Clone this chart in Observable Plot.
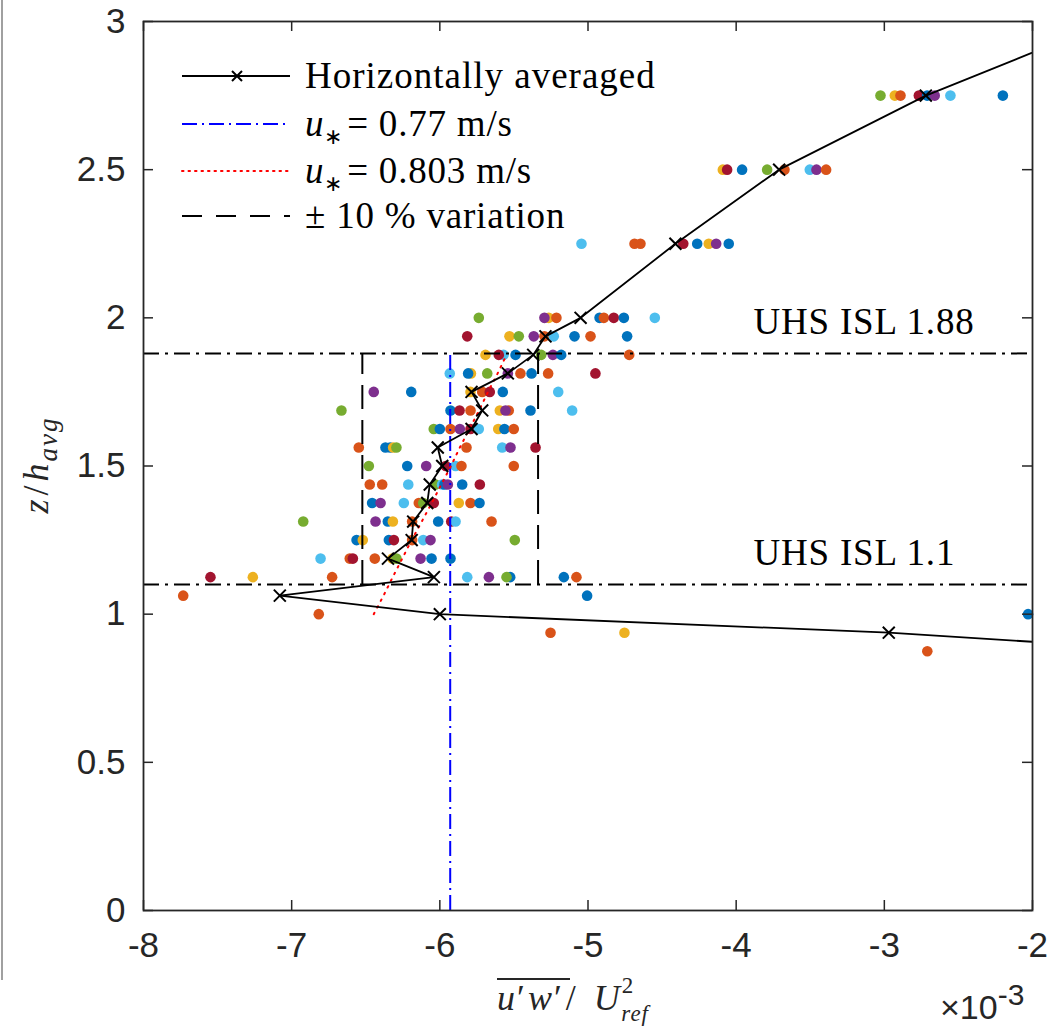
<!DOCTYPE html>
<html><head><meta charset="utf-8">
<script src="https://cdn.jsdelivr.net/npm/d3@7"></script>
<script src="https://cdn.jsdelivr.net/npm/@observablehq/plot@0.6"></script>
<style>
body{margin:0;background:#fff;}
#wrap{position:relative;width:1058px;height:1028px;overflow:hidden;}
#chart{position:absolute;left:0;top:0;}
#edge{position:absolute;left:1px;top:0;width:1.5px;height:980px;background:#a0a0a0;}
</style></head>
<body><div id="wrap"><div id="chart"></div><div id="edge"></div></div>
<script>
// MATLAB default colour order
const palette = {b:"#0072BD", o:"#D95319", y:"#EDB120", p:"#7E2F8E", g:"#77AC30", c:"#4DBEEE", r:"#A2142F"};

// Scatter points: one entry per height level z/h_avg (x in units of 1e-3)
const scatterZ = [2.75, 2.5, 2.25, 2.0, 1.9375, 1.875, 1.8125, 1.75, 1.6875, 1.625, 1.5625, 1.5, 1.4375, 1.375, 1.3125, 1.25, 1.1875, 1.125, 1.0625, 1.0, 0.9375, 0.875];
const scatterColors = [
  "gyorbpcb",
  "yrbgocpo",
  "coorbypb",
  "gypoborbc",
  "rygpocbob",
  "ycrbgpbo",
  "cybgpobor",
  "pbyorbc",
  "gbroyopbc",
  "gboprcybo",
  "obbygocpr",
  "gbprcoo",
  "oocgcbpbr",
  "bpcogryob",
  "gpbyobrco",
  "bybrocpg",
  "coroygpbb",
  "ryocpbgbo",
  "ob",
  "ob",
  "oy",
  "o"
];
const scatterX = [
  [-3.026, -2.929, -2.891, -2.767, -2.711, -2.660, -2.554, -2.200],
  [-4.090, -4.061, -3.960, -3.791, -3.674, -3.503, -3.458, -3.393],
  [-5.044, -4.686, -4.646, -4.357, -4.263, -4.185, -4.135, -4.050],
  [-5.737, -5.265, -5.294, -5.213, -4.922, -4.893, -4.826, -4.758, -4.549],
  [-5.815, -5.530, -5.467, -5.366, -5.294, -5.231, -5.091, -4.983, -4.736],
  [-5.692, -5.570, -5.602, -5.489, -5.316, -5.237, -5.181, -4.722],
  [-5.933, -5.790, -5.809, -5.680, -5.541, -5.456, -5.381, -5.269, -4.950],
  [-6.446, -6.193, -5.793, -5.714, -5.663, -5.575, -5.201],
  [-6.664, -5.928, -5.867, -5.793, -5.595, -5.535, -5.557, -5.388, -5.107],
  [-6.041, -6.000, -5.928, -5.865, -5.793, -5.737, -5.606, -5.564, -5.501],
  [-6.547, -6.367, -6.335, -6.315, -6.293, -5.820, -5.579, -5.523, -5.354],
  [-6.479, -6.220, -6.092, -5.960, -5.894, -5.854, -5.501],
  [-6.473, -6.389, -6.213, -6.029, -5.985, -5.969, -5.946, -5.849, -5.730],
  [-6.457, -6.400, -6.243, -6.142, -6.112, -6.041, -5.872, -5.793, -5.732],
  [-6.922, -6.434, -6.351, -6.317, -6.187, -6.011, -5.923, -5.894, -5.651],
  [-6.562, -6.520, -6.344, -6.310, -6.187, -6.112, -6.063, -5.494],
  [-6.805, -6.608, -6.587, -6.439, -6.320, -6.293, -6.130, -6.056, -5.928],
  [-7.548, -7.262, -6.727, -5.815, -5.669, -5.525, -5.550, -5.163, -5.078],
  [-7.732, -5.006],
  [-6.817, -2.030],
  [-5.253, -4.754],
  [-2.710]
];

// Horizontally averaged profile
const avgZ = [0.875, 0.9375, 1.0, 1.0625, 1.125, 1.1875, 1.25, 1.3125, 1.375, 1.4375, 1.5, 1.5625, 1.625, 1.6875, 1.75, 1.8125, 1.875, 1.9375, 2.0, 2.25, 2.5, 2.75, 3.0];
const avgX = [-1.0, -2.97, -6.0, -7.08, -6.04, -6.35, -6.19, -6.18, -6.085, -6.068, -5.984, -6.014, -5.786, -5.714, -5.786, -5.541, -5.37, -5.287, -5.05, -4.41, -3.71, -2.72, -1.48];

// u* = 0.803 m/s profile
const u803Z = [1.0, 1.0625, 1.125, 1.1875, 1.25, 1.3125, 1.375, 1.4375, 1.5, 1.5625, 1.625, 1.6875, 1.75, 1.8125, 1.875];
const u803X = [-6.446, -6.38, -6.318, -6.254, -6.19, -6.122, -6.055, -5.99, -5.925, -5.865, -5.80, -5.735, -5.675, -5.61, -5.55];

// u* = 0.77 m/s reference and +-10 % variation
const u77X = -5.93;
const variation = 0.10;
const islZ = [1.1, 1.88];
const islLabels = ["UHS ISL 1.1", "UHS ISL 1.88"];
const islLabelX = -3.883;

const xTicks = [-8, -7, -6, -5, -4, -3, -2];
const yTicks = [0, 0.5, 1, 1.5, 2, 2.5, 3];

const rows = [];
scatterZ.forEach((z, i) => scatterX[i].forEach((x, j) => rows.push({x, z, c: palette[scatterColors[i][j]]})));
const avg = avgZ.map((z, i) => ({x: avgX[i], z}));
const u803 = u803Z.map((z, i) => ({x: u803X[i], z}));
const isl = islZ.map((z, i) => ({z, label: islLabels[i], x: islLabelX}));

const AX = "#262626";
const chart = Plot.plot({
  width: 1058, height: 1028,
  marginLeft: 143, marginRight: 26, marginTop: 21, marginBottom: 118,
  x: {domain: [-8, -2]},
  y: {domain: [0, 3]},
  color: {type: "identity"},
  style: {fontFamily: "'Liberation Sans', Arial, sans-serif", color: AX, background: "white", overflow: "visible"},
  marks: [
    Plot.dot(rows, {x: "x", y: "z", fill: "c", r: 5.3}),
    Plot.ruleY(islZ, {y: d => d, stroke: "#000", strokeWidth: 2, strokeDasharray: "16,6,3,6"}),
    Plot.ruleX([u77X * (1 + variation), u77X * (1 - variation)], {x: d => d, y1: islZ[0], y2: islZ[1], stroke: "#000", strokeWidth: 2, strokeDasharray: "24,11"}),
    Plot.ruleX([u77X], {x: d => d, y1: 0, y2: islZ[1], stroke: "#0000FF", strokeWidth: 2, strokeDasharray: "15,5,2,5"}),
    Plot.line(u803, {x: "x", y: "z", stroke: "#FF0000", strokeWidth: 2, strokeDasharray: "1.5,6", strokeLinecap: "round"}),
    Plot.line(avg, {x: "x", y: "z", stroke: "#000", strokeWidth: 1.8, clip: true}),
    Plot.dot(avg, {x: "x", y: "z", symbol: "times", r: 5.5, stroke: "#000", strokeWidth: 2, clip: true}),
    Plot.text(isl, {x: "x", y: "z", text: "label", textAnchor: "start", dy: -31, fontSize: 37, fill: "#000", fontFamily: "'Liberation Serif', serif", className: "isl-label"}),
    Plot.tickX(xTicks, {x: d => d, insetTop: 879, stroke: AX, strokeWidth: 1.5}),
    Plot.tickX(xTicks, {x: d => d, insetBottom: 879, stroke: AX, strokeWidth: 1.5}),
    Plot.tickY(yTicks, {y: d => d, insetRight: 879, stroke: AX, strokeWidth: 1.5}),
    Plot.tickY(yTicks, {y: d => d, insetLeft: 879, stroke: AX, strokeWidth: 1.5}),
    Plot.frame({stroke: AX, strokeWidth: 1.8}),
    Plot.axisX({ticks: xTicks, tickSize: 0, tickPadding: 22, tickFormat: d => String(d), fontSize: 35, label: null}),
    Plot.axisY({ticks: yTicks, tickSize: 0, tickPadding: 18, tickFormat: d => String(d), fontSize: 35, label: null})
  ]
});
document.getElementById("chart").appendChild(chart);

// Legend, axis titles, exponent
const svg = d3.select(chart);
svg.selectAll(".isl-label text").attr("letter-spacing", 0.8);
const g = svg.append("g").attr("font-family", "'Liberation Serif', serif").attr("fill", "#000").attr("text-anchor", "start");
const legRows = [76, 124, 171, 216];
const lx0 = 182, lx1 = 290, tx = 305;
g.append("line").attr("x1", lx0).attr("x2", lx1).attr("y1", legRows[0]).attr("y2", legRows[0]).attr("stroke", "#000").attr("stroke-width", 1.8);
g.append("path").attr("d", `M${237-5},${legRows[0]-5}L${237+5},${legRows[0]+5}M${237-5},${legRows[0]+5}L${237+5},${legRows[0]-5}`).attr("stroke", "#000").attr("stroke-width", 2);
g.append("line").attr("x1", lx0).attr("x2", lx1).attr("y1", legRows[1]).attr("y2", legRows[1]).attr("stroke", "#0000FF").attr("stroke-width", 2).attr("stroke-dasharray", "15,5,2,5");
g.append("line").attr("x1", lx0).attr("x2", lx1).attr("y1", legRows[2]).attr("y2", legRows[2]).attr("stroke", "#FF0000").attr("stroke-width", 2).attr("stroke-dasharray", "1.5,5").attr("stroke-linecap", "round");
g.append("line").attr("x1", lx0).attr("x2", lx1).attr("y1", legRows[3]).attr("y2", legRows[3]).attr("stroke", "#000").attr("stroke-width", 2).attr("stroke-dasharray", "20,14");

const fs = 37;
g.append("text").attr("x", tx).attr("y", legRows[0] + 12).attr("font-size", fs).attr("letter-spacing", 1).text("Horizontally averaged");
[["0.77", 1], ["0.803", 2]].forEach(([v, i]) => {
  const t = g.append("text").attr("x", tx).attr("y", legRows[i] + 12).attr("font-size", fs).attr("letter-spacing", 0.8);
  t.append("tspan").attr("font-style", "italic").text("u");
  t.append("tspan").attr("font-size", 22).attr("dy", 8).text("∗");
  t.append("tspan").attr("dy", -8).attr("dx", 4).text("= " + v + " m/s");
});
g.append("text").attr("x", tx).attr("y", legRows[3] + 12).attr("font-size", fs).attr("letter-spacing", 0.8).text("± 10 % variation");

// x-axis title
const xt = g.append("text").attr("x", 497).attr("y", 1010).attr("font-size", 36).attr("fill", AX);
xt.append("tspan").attr("font-style", "italic").text("u");
xt.append("tspan").attr("dx", 2).text("′");
xt.append("tspan").attr("dx", 3).attr("font-style", "italic").text("w");
xt.append("tspan").attr("dx", 2).text("′");
xt.append("tspan").attr("dx", 4).text("/");
xt.append("tspan").attr("dx", 18).attr("font-style", "italic").text("U");
xt.append("tspan").attr("font-size", 23).attr("dx", 2).attr("dy", -17).text("2");
xt.append("tspan").attr("font-size", 23).attr("font-style", "italic").attr("dx", -12).attr("dy", 28).attr("letter-spacing", 1).text("ref");
g.append("line").attr("x1", 497).attr("x2", 570).attr("y1", 979).attr("y2", 979).attr("stroke", AX).attr("stroke-width", 2);

// y-axis title
const yt = g.append("text").attr("transform", "translate(48,465) rotate(-90)").attr("text-anchor", "middle").attr("font-size", 36).attr("fill", AX);
yt.append("tspan").attr("font-style", "italic").text("z");
yt.append("tspan").attr("dx", 4).text("/");
yt.append("tspan").attr("dx", 4).attr("font-style", "italic").text("h");
yt.append("tspan").attr("font-style", "italic").attr("font-size", 27).attr("dx", 2).attr("dy", 9).attr("letter-spacing", 2).text("avg");

// exponent
const ex = svg.append("text").attr("x", 940).attr("y", 1019).attr("text-anchor", "start").attr("font-family", "'Liberation Sans', Arial, sans-serif").attr("font-size", 34).attr("fill", AX);
ex.append("tspan").text("×10");
ex.append("tspan").attr("font-size", 30).attr("dy", -14).text("-3");
</script>
</body></html>
